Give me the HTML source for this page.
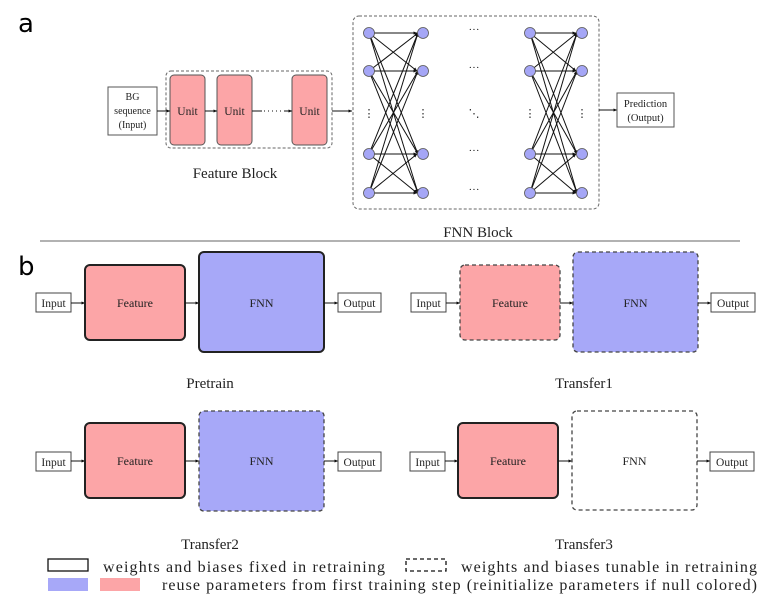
<!DOCTYPE html>
<html><head><meta charset="utf-8"><style>
html,body{margin:0;padding:0;background:#fff;}
svg{display:block;}
text{font-family:"Liberation Serif",serif;fill:#222;}
</style></head><body>
<svg width="778" height="601" viewBox="0 0 778 601" xmlns="http://www.w3.org/2000/svg">
<defs>
<marker id="s" viewBox="0 0 10 10" refX="9" refY="5" markerWidth="4" markerHeight="4" orient="auto"><path d="M0,1 L10,5 L0,9 z" fill="#111"/></marker>
</defs>
<text x="18" y="32" style="font-family:'DejaVu Sans',sans-serif;font-size:26px;fill:#000">a</text>
<text x="18" y="275" style="font-family:'DejaVu Sans',sans-serif;font-size:26px;fill:#000">b</text>

<!-- Part a -->
<rect x="108" y="87" width="49" height="48" fill="#fff" stroke="#555" stroke-width="1"/>
<text x="132.5" y="100" font-size="10" text-anchor="middle">BG</text>
<text x="132.5" y="114" font-size="10" text-anchor="middle">sequence</text>
<text x="132.5" y="128" font-size="10" text-anchor="middle">(Input)</text>
<rect x="166" y="71" width="166" height="77" rx="5" fill="none" stroke="#666" stroke-dasharray="3,2"/>
<rect x="170" y="75" width="35" height="70" rx="4" fill="#fca5a7" stroke="#555"/>
<rect x="217" y="75" width="35" height="70" rx="4" fill="#fca5a7" stroke="#555"/>
<rect x="292" y="75" width="35" height="70" rx="4" fill="#fca5a7" stroke="#555"/>
<text x="187.5" y="115" font-size="11.5" text-anchor="middle">Unit</text>
<text x="234.5" y="115" font-size="11.5" text-anchor="middle">Unit</text>
<text x="309.5" y="115" font-size="11.5" text-anchor="middle">Unit</text>
<line x1="157" y1="111" x2="170" y2="111" stroke="#111" marker-end="url(#s)"/>
<line x1="205" y1="111" x2="217" y2="111" stroke="#111" marker-end="url(#s)"/>
<line x1="252" y1="111" x2="262" y2="111" stroke="#111"/>
<line x1="264" y1="111" x2="284" y2="111" stroke="#111" stroke-dasharray="1,3"/>
<line x1="284" y1="111" x2="292" y2="111" stroke="#111" marker-end="url(#s)"/>
<line x1="332" y1="111" x2="352" y2="111" stroke="#111" marker-end="url(#s)"/>
<text x="235" y="178" font-size="15" text-anchor="middle">Feature Block</text>

<rect x="353" y="16" width="246" height="193" rx="6" fill="none" stroke="#666" stroke-dasharray="3,2"/>
<g stroke="#111" stroke-width="1" marker-end="url(#s)">
<line x1="369" y1="33" x2="417" y2="33"/><line x1="369" y1="33" x2="417" y2="71"/><line x1="369" y1="33" x2="418" y2="154"/><line x1="369" y1="33" x2="418" y2="193"/>
<line x1="369" y1="71" x2="418" y2="33"/><line x1="369" y1="71" x2="417" y2="71"/><line x1="369" y1="71" x2="418" y2="154"/><line x1="369" y1="71" x2="418" y2="193"/>
<line x1="369" y1="154" x2="418" y2="33"/><line x1="369" y1="154" x2="418" y2="71"/><line x1="369" y1="154" x2="417" y2="154"/><line x1="369" y1="154" x2="417" y2="193"/>
<line x1="369" y1="193" x2="418" y2="33"/><line x1="369" y1="193" x2="418" y2="71"/><line x1="369" y1="193" x2="417" y2="154"/><line x1="369" y1="193" x2="417" y2="193"/>
<line x1="530" y1="33" x2="576" y2="33"/><line x1="530" y1="33" x2="576" y2="71"/><line x1="530" y1="33" x2="577" y2="154"/><line x1="530" y1="33" x2="577" y2="193"/>
<line x1="530" y1="71" x2="577" y2="33"/><line x1="530" y1="71" x2="576" y2="71"/><line x1="530" y1="71" x2="577" y2="154"/><line x1="530" y1="71" x2="577" y2="193"/>
<line x1="530" y1="154" x2="577" y2="33"/><line x1="530" y1="154" x2="577" y2="71"/><line x1="530" y1="154" x2="576" y2="154"/><line x1="530" y1="154" x2="576" y2="193"/>
<line x1="530" y1="193" x2="577" y2="33"/><line x1="530" y1="193" x2="577" y2="71"/><line x1="530" y1="193" x2="576" y2="154"/><line x1="530" y1="193" x2="576" y2="193"/>
</g>
<g fill="#a5a6f6" stroke="#555" stroke-width="0.8">
<circle cx="369" cy="33" r="5.5"/><circle cx="369" cy="71" r="5.5"/><circle cx="369" cy="154" r="5.5"/><circle cx="369" cy="193" r="5.5"/>
<circle cx="423" cy="33" r="5.5"/><circle cx="423" cy="71" r="5.5"/><circle cx="423" cy="154" r="5.5"/><circle cx="423" cy="193" r="5.5"/>
<circle cx="530" cy="33" r="5.5"/><circle cx="530" cy="71" r="5.5"/><circle cx="530" cy="154" r="5.5"/><circle cx="530" cy="193" r="5.5"/>
<circle cx="582" cy="33" r="5.5"/><circle cx="582" cy="71" r="5.5"/><circle cx="582" cy="154" r="5.5"/><circle cx="582" cy="193" r="5.5"/>
</g>
<g font-size="11" text-anchor="middle">
<text x="474" y="33">···</text><text x="474" y="71">···</text><text x="474" y="154">···</text><text x="474" y="193">···</text>
<text x="369" y="117">⋮</text><text x="423" y="117">⋮</text><text x="474" y="117">⋱</text><text x="530" y="117">⋮</text><text x="582" y="117">⋮</text>
</g>
<line x1="599" y1="110" x2="617" y2="110" stroke="#111" marker-end="url(#s)"/>
<rect x="617" y="93" width="57" height="34" fill="#fff" stroke="#555"/>
<text x="645.5" y="107" font-size="10.5" text-anchor="middle">Prediction</text>
<text x="645.5" y="121" font-size="10.5" text-anchor="middle">(Output)</text>
<text x="478" y="237" font-size="15" text-anchor="middle">FNN Block</text>
<line x1="40" y1="241" x2="740" y2="241" stroke="#666" stroke-width="1"/>

<!-- Pretrain -->
<g>
<rect x="36" y="293" width="35" height="19" fill="#fff" stroke="#444"/><text x="53.5" y="307" font-size="11.5" text-anchor="middle">Input</text>
<line x1="71" y1="303" x2="85" y2="303" stroke="#111" marker-end="url(#s)"/>
<rect x="85" y="265" width="100" height="75" rx="5" fill="#fca5a7" stroke="#222" stroke-width="2"/><text x="135" y="307" font-size="12" text-anchor="middle">Feature</text>
<line x1="185" y1="303" x2="199" y2="303" stroke="#111" marker-end="url(#s)"/>
<rect x="199" y="252" width="125" height="100" rx="5" fill="#a7a8f8" stroke="#222" stroke-width="2"/><text x="261.5" y="307" font-size="12" text-anchor="middle">FNN</text>
<line x1="324" y1="303" x2="338" y2="303" stroke="#111" marker-end="url(#s)"/>
<rect x="338" y="293" width="43" height="19" fill="#fff" stroke="#444"/><text x="359.5" y="307" font-size="11.5" text-anchor="middle">Output</text>
<text x="210" y="388" font-size="15" text-anchor="middle">Pretrain</text>
</g>
<!-- Transfer1 -->
<g>
<rect x="411" y="293" width="35" height="19" fill="#fff" stroke="#444"/><text x="428.5" y="307" font-size="11.5" text-anchor="middle">Input</text>
<line x1="446" y1="303" x2="460" y2="303" stroke="#111" marker-end="url(#s)"/>
<rect x="460" y="265" width="100" height="75" rx="5" fill="#fca5a7" stroke="#444" stroke-width="1.3" stroke-dasharray="4,3"/><text x="510" y="307" font-size="12" text-anchor="middle">Feature</text>
<line x1="560" y1="303" x2="573" y2="303" stroke="#111" marker-end="url(#s)"/>
<rect x="573" y="252" width="125" height="100" rx="5" fill="#a7a8f8" stroke="#444" stroke-width="1.3" stroke-dasharray="4,3"/><text x="635.5" y="307" font-size="12" text-anchor="middle">FNN</text>
<line x1="698" y1="303" x2="711" y2="303" stroke="#111" marker-end="url(#s)"/>
<rect x="711" y="293" width="44" height="19" fill="#fff" stroke="#444"/><text x="733" y="307" font-size="11.5" text-anchor="middle">Output</text>
<text x="584" y="388" font-size="15" text-anchor="middle">Transfer1</text>
</g>
<!-- Transfer2 -->
<g>
<rect x="36" y="452" width="35" height="19" fill="#fff" stroke="#444"/><text x="53.5" y="466" font-size="11.5" text-anchor="middle">Input</text>
<line x1="71" y1="461" x2="85" y2="461" stroke="#111" marker-end="url(#s)"/>
<rect x="85" y="423" width="100" height="75" rx="5" fill="#fca5a7" stroke="#222" stroke-width="2"/><text x="135" y="465" font-size="12" text-anchor="middle">Feature</text>
<line x1="185" y1="461" x2="199" y2="461" stroke="#111" marker-end="url(#s)"/>
<rect x="199" y="411" width="125" height="100" rx="5" fill="#a7a8f8" stroke="#444" stroke-width="1.3" stroke-dasharray="4,3"/><text x="261.5" y="465" font-size="12" text-anchor="middle">FNN</text>
<line x1="324" y1="461" x2="338" y2="461" stroke="#111" marker-end="url(#s)"/>
<rect x="338" y="452" width="43" height="19" fill="#fff" stroke="#444"/><text x="359.5" y="466" font-size="11.5" text-anchor="middle">Output</text>
<text x="210" y="549" font-size="15" text-anchor="middle">Transfer2</text>
</g>
<!-- Transfer3 -->
<g>
<rect x="410" y="452" width="35" height="19" fill="#fff" stroke="#444"/><text x="427.5" y="466" font-size="11.5" text-anchor="middle">Input</text>
<line x1="445" y1="461" x2="458" y2="461" stroke="#111" marker-end="url(#s)"/>
<rect x="458" y="423" width="100" height="75" rx="5" fill="#fca5a7" stroke="#222" stroke-width="2"/><text x="508" y="465" font-size="12" text-anchor="middle">Feature</text>
<line x1="558" y1="461" x2="572" y2="461" stroke="#111" marker-end="url(#s)"/>
<rect x="572" y="411" width="125" height="99" rx="5" fill="#fff" stroke="#444" stroke-width="1.3" stroke-dasharray="4,3"/><text x="634.5" y="465" font-size="12" text-anchor="middle">FNN</text>
<line x1="697" y1="461" x2="710" y2="461" stroke="#111" marker-end="url(#s)"/>
<rect x="710" y="452" width="44" height="19" fill="#fff" stroke="#444"/><text x="732" y="466" font-size="11.5" text-anchor="middle">Output</text>
<text x="584" y="549" font-size="15" text-anchor="middle">Transfer3</text>
</g>

<!-- Legend -->
<rect x="48" y="559" width="40" height="12" fill="#fff" stroke="#111" stroke-width="1.3"/>
<text x="103" y="572" font-size="16" textLength="282" lengthAdjust="spacing">weights and biases fixed in retraining</text>
<rect x="406" y="559" width="40" height="12" fill="#fff" stroke="#111" stroke-width="1.3" stroke-dasharray="4,3"/>
<text x="461" y="572" font-size="16" textLength="296" lengthAdjust="spacing">weights and biases tunable in retraining</text>
<rect x="48" y="578" width="40" height="13" fill="#a7a8f8"/>
<rect x="100" y="578" width="40" height="13" fill="#fca5a7"/>
<text x="162" y="590" font-size="16" textLength="595" lengthAdjust="spacing">reuse parameters from first training step (reinitialize parameters if null colored)</text>
</svg>
</body></html>
